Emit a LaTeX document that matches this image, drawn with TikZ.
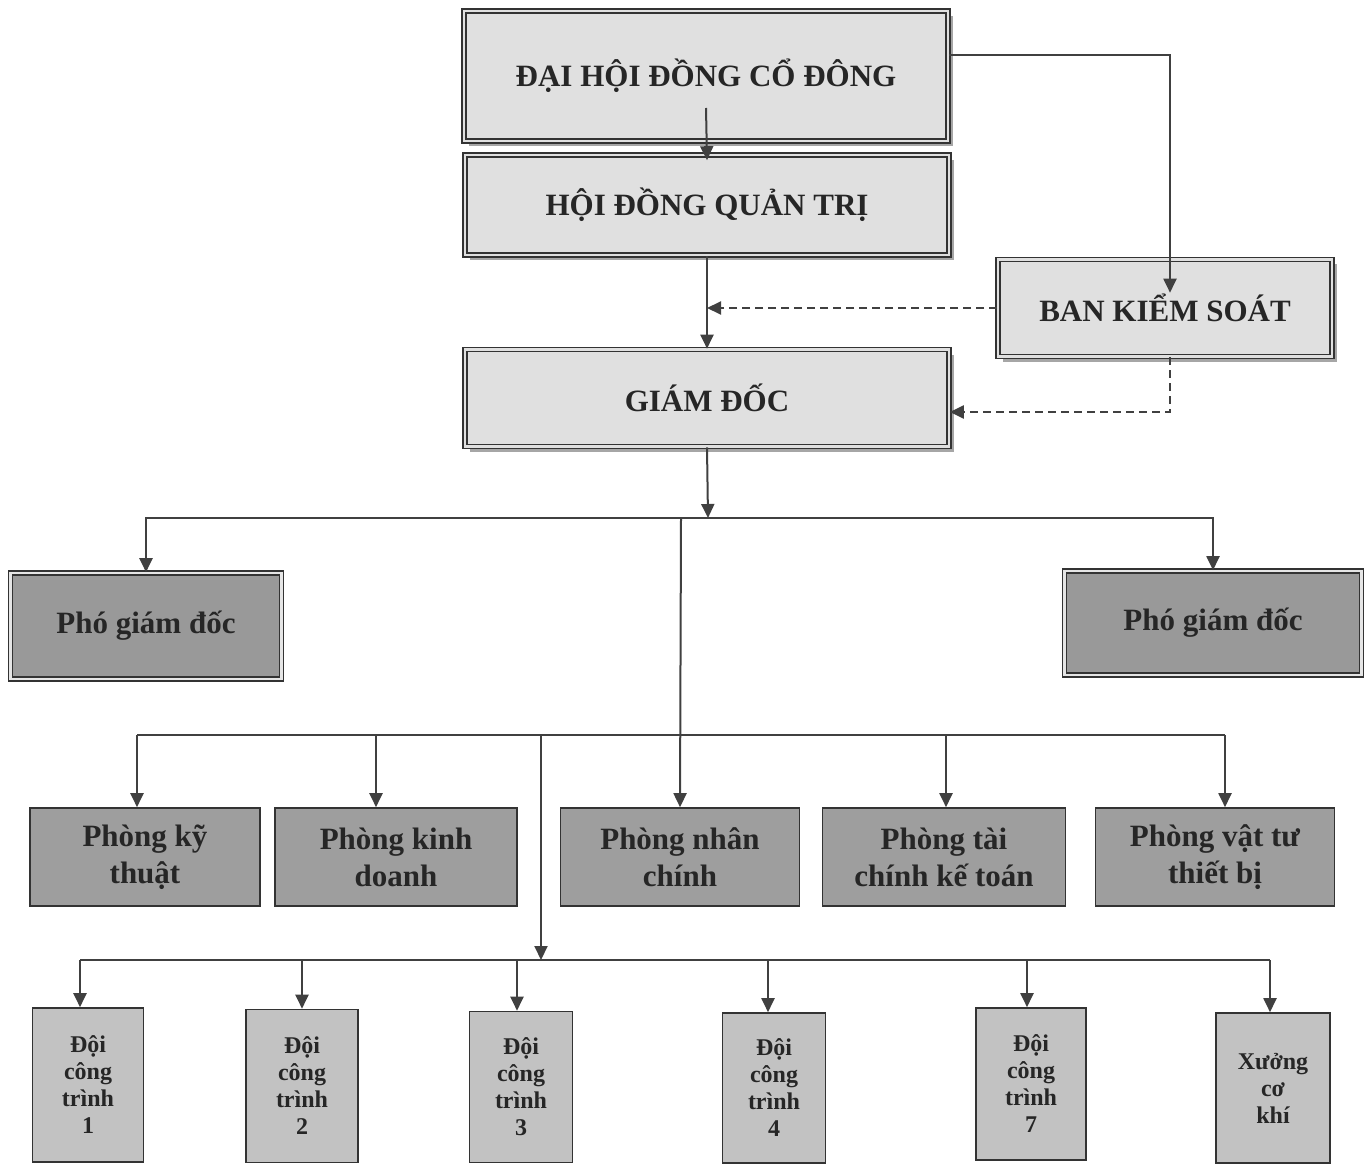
\documentclass[tikz,border=0pt]{standalone}
\usepackage{fontspec}
\setmainfont{Liberation Serif}
\usetikzlibrary{arrows.meta,shadows}

\newcommand{\bigtxt}{\fontsize{31}{37}\selectfont\bfseries}
\newcommand{\teamtxt}{\fontsize{24}{27}\selectfont\bfseries}

\begin{document}
\begin{tikzpicture}[x=1pt, y=-1pt,
    topbox/.style={draw=black!80, line width=1.6pt, double=black!12, double distance=2.5pt,
      fill=black!12, text=black!85, font=\bigtxt,
      drop shadow={shadow xshift=5pt, shadow yshift=-5pt, fill=black!35, opacity=1}},
    vicebox/.style={draw=black!80, line width=1.6pt, double=black!10, double distance=2.5pt,
      fill=black!40, text=black!85, font=\bigtxt},
    deptbox/.style={draw=black!80, line width=1.6pt, fill=black!38, text=black!85,
      font=\bigtxt, align=center, minimum height=98pt},
    teambox/.style={draw=black!80, line width=1.6pt, fill=black!24, text=black!85,
      font=\teamtxt, align=center},
    conn/.style={draw=black!75, line width=2pt},
    arr/.style={conn, -{Triangle[length=14pt, width=13pt]}},
    dashline/.style={dash pattern=on 8pt off 5pt}]
  % \draw[help lines] (0,0) grid[step=100pt] (1370,1166);
  \useasboundingbox (0,0) rectangle (1370,1166);

  % board level
  \node[topbox, minimum width=484pt, minimum height=130pt] (dh) at (706,76) {ĐẠI HỘI ĐỒNG CỔ ĐÔNG};
  \node[topbox, minimum width=484pt, minimum height=100pt] (hd) at (707,205) {HỘI ĐỒNG QUẢN TRỊ};
  \node[topbox, minimum width=334pt, minimum height=97pt] (bks) at (1165,308) {BAN KIỂM SOÁT};
  \node[topbox, minimum width=484pt, minimum height=97pt] (gd) at (707,398) {GIÁM ĐỐC};

  % vice directors
  \node[vicebox, minimum width=271pt, minimum height=106pt] (pgd1) at (146,626) {Phó giám đốc};
  \node[vicebox, minimum width=297pt, minimum height=104pt] (pgd2) at (1213,623) {Phó giám đốc};

  % departments
  \node[deptbox, minimum width=230pt] (pkt) at (145,857) {Phòng kỹ\\thuật};
  \node[deptbox, minimum width=242pt] (pkd) at (396,857) {Phòng kinh\\doanh};
  \node[deptbox, minimum width=239pt] (pnc) at (680,857) {Phòng nhân\\chính};
  \node[deptbox, minimum width=243pt] (ptc) at (944,857) {Phòng tài\\chính kế toán};
  \node[deptbox, minimum width=239pt] (pvt) at (1215,857) {Phòng vật tư\\thiết bị};

  % teams
  \node[teambox, minimum width=111pt, minimum height=154pt] (d1) at (88,1085) {Đội\\công\\trình\\1};
  \node[teambox, minimum width=112pt, minimum height=153pt] (d2) at (302,1086) {Đội\\công\\trình\\2};
  \node[teambox, minimum width=103pt, minimum height=151pt] (d3) at (521,1087) {Đội\\công\\trình\\3};
  \node[teambox, minimum width=103pt, minimum height=150pt] (d4) at (774,1088) {Đội\\công\\trình\\4};
  \node[teambox, minimum width=110pt, minimum height=152pt] (d7) at (1031,1084) {Đội\\công\\trình\\7};
  \node[teambox, minimum width=114pt, minimum height=150pt] (xck) at (1273,1088) {Xưởng\\cơ\\khí};

  % top connectors
  \draw[arr] ([yshift=-32pt]dh.center) -- ([yshift=-6pt]hd.north);
  \draw[arr] ([yshift=21pt]dh.east) -| ([xshift=5pt,yshift=-34pt]bks.north);
  \draw[arr] (hd.south) -- (gd.north);
  \draw[arr, dashline] (bks.west) -- (bks.west -| gd.north);
  \draw[arr, dashline] ([xshift=5pt]bks.south) |- ([yshift=-14pt]gd.east);

  % to vice directors
  \coordinate (j1) at (708,518);
  \draw[arr] (gd.south) -- (j1);
  \draw[arr] (j1) -| (pgd1.north);
  \draw[arr] (j1) -| (pgd2.north);

  % to departments
  \coordinate (j2) at (681,518);
  \coordinate (j3) at (681,735);
  \draw[arr] (j2) -- (pnc.north);
  \draw[conn] ([xshift=-8pt]pkt.north |- j3) -- ([xshift=10pt]pvt.north |- j3);
  \foreach \n/\s in {pkt/-8, pkd/-20, ptc/2, pvt/10}
    \draw[arr] ([xshift=\s pt]\n.north |- j3) -- ([xshift=\s pt]\n.north);

  % to teams
  \coordinate (j4) at (541,735);
  \coordinate (j5) at (541,960);
  \draw[arr] (j4) -- (j5);
  \draw[conn] ([xshift=-8pt]d1.north |- j5) -- ([xshift=-3pt]xck.north |- j5);
  \foreach \n/\s in {d1/-8, d2/0, d3/-4, d4/-6, d7/-4, xck/-3}
    \draw[arr] ([xshift=\s pt]\n.north |- j5) -- ([xshift=\s pt]\n.north);
\end{tikzpicture}
\end{document}
